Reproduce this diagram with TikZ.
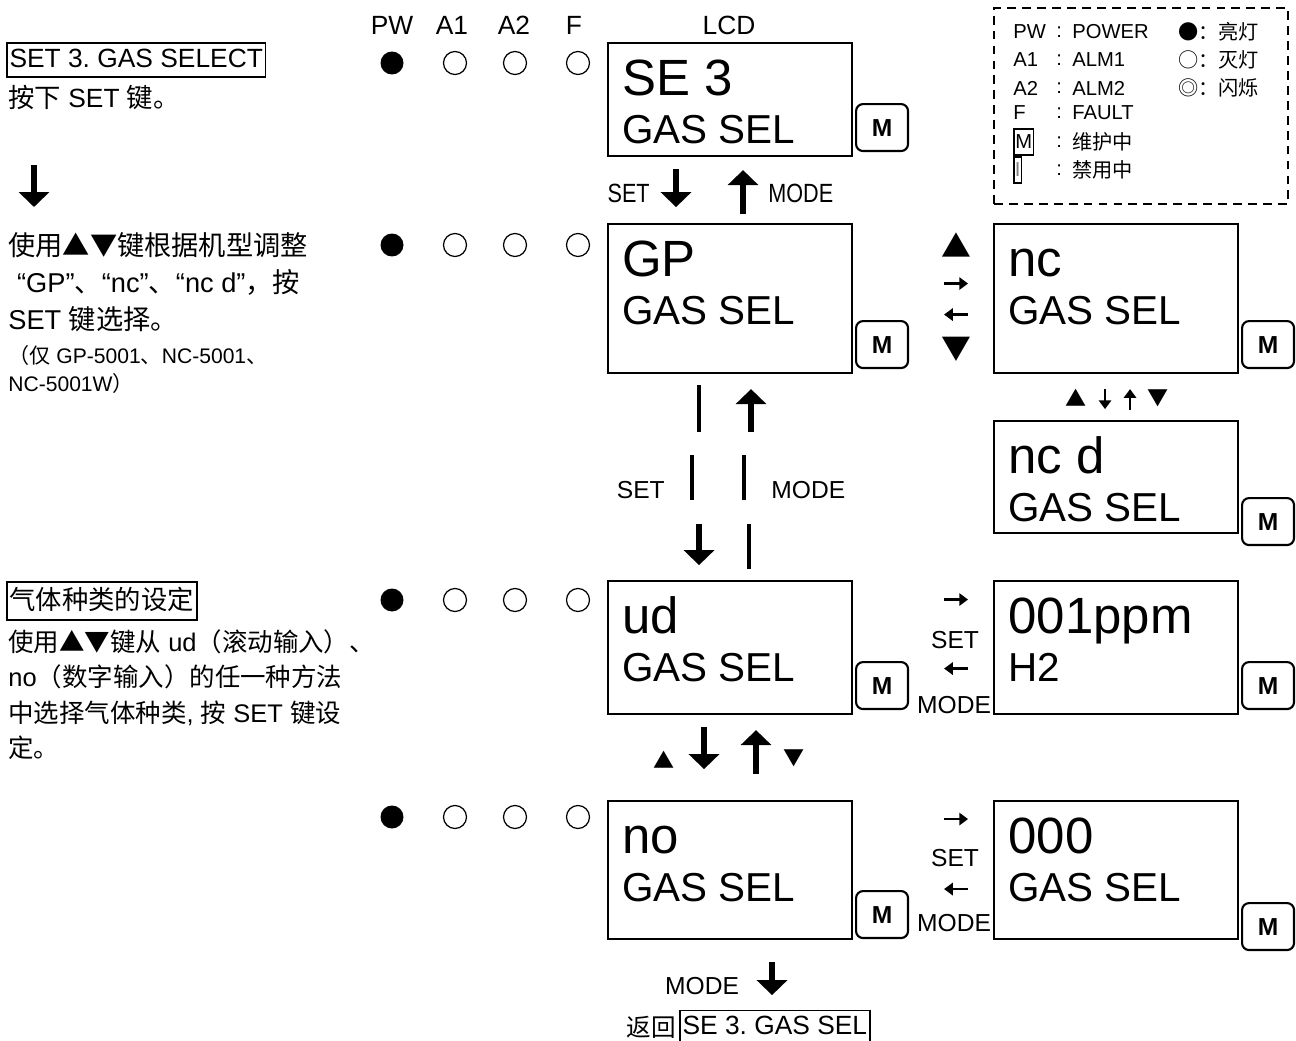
\documentclass[tikz,border=0pt]{standalone}
\usepackage{fontspec}
\setmainfont{Liberation Sans}
\newfontfamily\cjk{Noto Sans CJK SC}
\newfontfamily\narrow[FakeStretch=0.82]{Liberation Sans}
\usetikzlibrary{arrows.meta,calc}
\frenchspacing

\begin{document}
\begin{tikzpicture}[
  x=0.02cm, y=-0.02cm,
  every node/.style={inner sep=0pt, font=\fontsize{15}{18}\selectfont},
  lcd/.style={draw, line width=1.2pt, minimum width=4.88cm, anchor=north west},
  lcdbig/.style={anchor=base west, font=\fontsize{29}{34}\selectfont},
  lcdsmall/.style={anchor=base west, font=\fontsize{23}{28}\selectfont},
  mkey/.style={draw, line width=1.2pt, rounded corners=4pt, minimum width=1.04cm, minimum height=0.94cm, anchor=north west, font=\bfseries\fontsize{14}{16}\selectfont},
  ledon/.style={circle, fill=black, minimum size=0.46cm},
  ledoff/.style={circle, draw, line width=0.7pt, minimum size=0.46cm},
  titlebox/.style={draw, line width=1pt, inner xsep=1.5pt, inner ysep=2.5pt, text height=11pt, text depth=3pt, anchor=west},
  body/.style={anchor=west},
  note/.style={anchor=west, font=\fontsize{12}{14}\selectfont},
  keylbl/.style={font=\narrow\fontsize{15}{18}\selectfont},
  sidelbl/.style={font=\fontsize{14}{16}\selectfont},
  sym/.style={font=\cjk\fontsize{17}{18}\selectfont},
  smallsym/.style={font=\cjk\fontsize{12}{14}\selectfont},
  bigarr/.style={line width=3pt, -{Triangle[width=17pt,length=8.5pt]}},
  plainseg/.style={line width=1.8pt},
  smallarr/.style={line width=1.4pt, -{Triangle[width=7pt,length=5pt]}},
  legtxt/.style={anchor=west, font=\fontsize{11.5}{13}\selectfont},
]
  \useasboundingbox (0,0) rectangle (1296,1041);

  % column heads
  \foreach \nm/\xx in {PW/392, A1/452, A2/514, F/574, LCD/729}
    \node (h-\nm) at (\xx,25) {\nm};

  % lamps
  \foreach \r/\yy in {1/63, 2/245, 3/600, 4/817}{
    \node[ledon] (led\r-pw) at (392,\yy) {};
    \foreach \c/\xx in {a1/455, a2/515, f/578}
      \node[ledoff] (led\r-\c) at (\xx,\yy) {};
  }

  % displays with M key
  \foreach \nm/\xx/\yy/\hh/\la/\lb/\my in {se/607/42/113/SE 3/GAS SEL/103, gp/607/223/149/GP/GAS SEL/320, nc/993/223/149/nc/GAS SEL/320, ncd/993/420/112/nc d/GAS SEL/497, ud/607/580/133/ud/GAS SEL/661, ppm/993/580/133/001ppm/H2/661, no/607/800/138/no/GAS SEL/890, zero/993/800/138/000/GAS SEL/902}{
    \node[lcd, minimum height=\hh*0.02cm] (\nm) at (\xx,\yy) {};
    \node[lcdbig] (\nm-a) at (\xx+15,\yy+53) {\la};
    \node[lcdsmall] (\nm-b) at (\xx+15,\yy+101) {\lb};
    \node[mkey] (\nm-m) at (\xx+248,\my) {M};
  }

  % legend
  \node[draw, line width=1.2pt, dash pattern=on 5pt off 3.5pt, minimum width=5.88cm, minimum height=3.92cm, anchor=north west] (legend) at (993,7) {};
  \foreach \ab/\full/\yy in {PW/POWER/32, A1/ALM1/60, A2/ALM2/88, F/FAULT/113}{
    \node[legtxt] (lg-\ab) at (1013,\yy) {\ab};
    \node[legtxt] (lg-\ab-c) at (1056,\yy) {:};
    \node[legtxt] (lg-\ab-t) at (1072,\yy) {\full};
  }
  \node[legtxt, draw, line width=1pt, inner xsep=0.8pt, minimum height=15pt] (lg-m) at (1013,142) {M};
  \node[legtxt] (lg-m-c) at (1056,142) {:};
  \node[legtxt] (lg-m-t) at (1072,142) {\cjk 维护中};
  \node[legtxt, draw, line width=1pt, inner xsep=0.6pt, minimum height=14.5pt, text=gray] (lg-i) at (1013,170) {I};
  \node[legtxt] (lg-i-c) at (1056,170) {:};
  \node[legtxt] (lg-i-t) at (1072,170) {\cjk 禁用中};
  \foreach \i/\s/\w/\yy in {1/●/亮灯/32, 2/○/灭灯/60, 3/◎/闪烁/88}
    \node[legtxt] (lg-s\i) at (1178,\yy) {\cjk \s：\w};

  % step 1
  \node[titlebox] (title1) at (6,60) {SET 3. GAS SELECT};
  \node[body] (step1) at (8,97) {{\cjk 按下} SET {\cjk 键。}};
  \draw[bigarr] ($(step1.west)+(26,68)$) -- ($(step1.west)+(26,110)$);
  \draw[bigarr] ($(se.south)+(-54,12)$) -- ($(se.south)+(-54,50)$);
  \draw[bigarr] ($(se.south)+(13,57)$) -- ($(se.south)+(13,13)$);
  \node[keylbl, anchor=east] (set1) at ($(se.south)+(-80,36)$) {SET};
  \node[keylbl, anchor=west] (mode1) at ($(se.south)+(38,36)$) {MODE};

  % step 2
  \node[body, font=\fontsize{15.5}{18}\selectfont] (gp-t1) at (8,245) {\cjk 使用▲▼键根据机型调整};
  \node[body, font=\fontsize{15.5}{18}\selectfont] (gp-t2) at (8,282) {\hspace{5pt}“GP”{\cjk 、}“nc”{\cjk 、}“nc d”{\cjk ，按}};
  \node[body, font=\fontsize{15.5}{18}\selectfont] (gp-t3) at (8,319) {SET {\cjk 键选择。}};
  \node[note] (gp-t4) at (8,355) {{\cjk （仅} GP-5001{\cjk 、}NC-5001{\cjk 、}};
  \node[note] (gp-t5) at (8,383) {NC-5001W{\cjk ）}};

  \node[sym] (up2) at ($(gp.east)+(103,-53)$) {▲};
  \draw[smallarr] ($(gp.east)+(91,-15)$) -- ($(gp.east)+(115,-15)$);
  \draw[smallarr] ($(gp.east)+(115,16)$) -- ($(gp.east)+(91,16)$);
  \node[sym] (dn2) at ($(gp.east)+(103,51)$) {▼};

  \node[smallsym] (up3) at ($(nc.south)+(-40,24)$) {▲};
  \draw[smallarr] ($(nc.south)+(-11,15)$) -- ($(nc.south)+(-11,35)$);
  \draw[smallarr] ($(nc.south)+(14,36)$) -- ($(nc.south)+(14,15)$);
  \node[smallsym] (dn3) at ($(nc.south)+(42,24)$) {▼};

  \draw[plainseg] ($(gp.south)+(-31,11)$) -- ($(gp.south)+(-31,58)$);
  \draw[plainseg] ($(gp.south)+(-38,81)$) -- ($(gp.south)+(-38,126)$);
  \draw[bigarr] ($(gp.south)+(-31,150)$) -- ($(gp.south)+(-31,191)$);
  \draw[bigarr] ($(gp.south)+(21,58)$) -- ($(gp.south)+(21,15)$);
  \draw[plainseg] ($(gp.south)+(14,81)$) -- ($(gp.south)+(14,126)$);
  \draw[plainseg] ($(gp.south)+(19,150)$) -- ($(gp.south)+(19,195)$);
  \node[sidelbl, anchor=east] (set2) at ($(gp.south)+(-65,116)$) {SET};
  \node[sidelbl, anchor=west] (mode2) at ($(gp.south)+(41,116)$) {MODE};

  % step 3
  \node[titlebox, text height=13pt, text depth=3.5pt] (title3) at (6,601) {\cjk 气体种类的设定};
  \node[body, font=\fontsize{14.5}{18}\selectfont] (ud-t1) at (8,642) {{\cjk 使用▲▼键从} ud{\cjk （滚动输入）、}};
  \node[body, font=\fontsize{14.5}{18}\selectfont] (ud-t2) at (8,677) {no{\cjk （数字输入）的任一种方法}};
  \node[body, font=\fontsize{14.5}{18}\selectfont] (ud-t3) at (8,713) {{\cjk 中选择气体种类}, {\cjk 按} SET {\cjk 键设}};
  \node[body, font=\fontsize{14.5}{18}\selectfont] (ud-t4) at (8,748) {\cjk 定。};

  \draw[smallarr] ($(ud.east)+(91,-48)$) -- ($(ud.east)+(115,-48)$);
  \node[sidelbl] (set3) at ($(ud.east)+(102,-8)$) {SET};
  \draw[smallarr] ($(ud.east)+(115,21)$) -- ($(ud.east)+(91,21)$);
  \node[sidelbl] (mode3) at ($(ud.east)+(101,57)$) {MODE};

  \node[smallsym] (up4) at ($(ud.south)+(-66,45)$) {▲};
  \draw[bigarr] ($(ud.south)+(-26,12)$) -- ($(ud.south)+(-26,54)$);
  \draw[bigarr] ($(ud.south)+(26,59)$) -- ($(ud.south)+(26,15)$);
  \node[smallsym] (dn4) at ($(ud.south)+(64,43)$) {▼};

  % step 4
  \draw[smallarr] ($(no.east)+(91,-51)$) -- ($(no.east)+(115,-51)$);
  \node[sidelbl] (set4) at ($(no.east)+(102,-12)$) {SET};
  \draw[smallarr] ($(no.east)+(115,19)$) -- ($(no.east)+(91,19)$);
  \node[sidelbl] (mode4) at ($(no.east)+(101,53)$) {MODE};

  \node[sidelbl] (mode5) at ($(no.south)+(-28,46)$) {MODE};
  \draw[bigarr] ($(no.south)+(42,22)$) -- ($(no.south)+(42,55)$);
  \node[titlebox] (backbox) at ($(no.south)+(-51,87)$) {SE 3. GAS SEL};
  \node[font=\cjk\fontsize{14}{16}\selectfont, anchor=east] (back) at ($(backbox.west)+(-3,0)$) {返回};
\end{tikzpicture}
\end{document}
